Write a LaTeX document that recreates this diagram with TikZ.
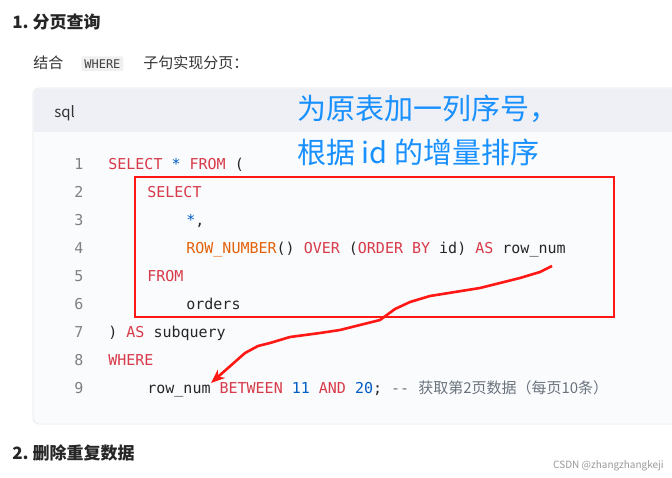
\documentclass[tikz,border=0pt]{standalone}
\usepackage{fontspec}
\setmainfont{Noto Sans CJK SC}
\newfontfamily\cjk{Noto Sans CJK SC}
\setmonofont{DejaVu Sans Mono}
\usetikzlibrary{arrows.meta}
\definecolor{kw}{RGB}{215, 58, 73}
\definecolor{fn}{RGB}{227, 98, 9}
\definecolor{nm}{RGB}{0, 92, 197}
\definecolor{cm}{RGB}{106, 115, 125}
\definecolor{note}{RGB}{24, 144, 255}
\definecolor{redmark}{RGB}{255, 24, 20}
\definecolor{panel}{RGB}{250, 251, 253}
\definecolor{band}{RGB}{238, 240, 246}
\newcommand{\K}[1]{\textcolor{kw}{#1}}
\newcommand{\F}[1]{\textcolor{fn}{#1}}
\newcommand{\N}[1]{\textcolor{nm}{#1}}
\newcommand{\C}[1]{\textcolor{cm}{#1}}
\begin{document}
\begin{tikzpicture}[x=1pt, y=-1pt, line width=0.7pt,
    codeline/.style={anchor=base west, inner sep=0pt, font=\fontsize{15}{15}\ttfamily, text=black!85},
    lineno/.style={anchor=base, inner sep=0pt, font=\fontsize{15}{15}\ttfamily, text=black!50},
    heading/.style={anchor=base west, inner sep=0pt, font=\fontsize{17}{17}\bfseries, text=black!85}]
    \useasboundingbox (0,0) rectangle (672,477);
    \fill[white] (0,0) rectangle (672,477);

    \node[heading] (h1) at (12,28) {1.\ 分页查询};
    \node[anchor=base west, inner sep=0pt, font=\fontsize{15}{15}\selectfont, text=black!80] (intro) at (33,68) {结合};
    \node[anchor=base west, fill=black!6, rounded corners=2pt, inner sep=3pt, font=\fontsize{12}{12}\ttfamily, text=black!75] (where) at (81,68) {WHERE};
    \node[anchor=base west, inner sep=0pt, font=\fontsize{15}{15}\selectfont, text=black!80] (intro2) at (143,68) {子句实现分页：};

    % code panel
    \begin{scope}
        \clip (0,0) rectangle (672,477);
        \draw[draw=black!8, fill=panel, rounded corners=6pt] (33,88) rectangle (690,424);
        \fill[band, rounded corners=6pt] (33.5,88.5) rectangle (689,132);
        \fill[band] (33.5,110) rectangle (689,132);
    \end{scope}
    \node[anchor=base west, inner sep=0pt, font=\fontsize{15}{15}\selectfont, text=black!80] (lang) at (54,117) {sql};

    \foreach \i in {1,...,9}
        \node[lineno] (n\i) at (79,{164+28*(\i-1)+5}) {\i};

    \node[codeline] (c1) at (108,169) {\K{SELECT} \N{*} \K{FROM} (};
    \node[codeline] (c2) at (147,197) {\K{SELECT}};
    \node[codeline] (c3) at (186,225) {\N{*},};
    \node[codeline] (c4) at (186,253) {\F{ROW\_NUMBER}() \K{OVER} (\K{ORDER BY} id) \K{AS} row\_num};
    \node[codeline] (c5) at (147,281) {\K{FROM}};
    \node[codeline] (c6) at (186,309) {orders};
    \node[codeline] (c7) at (108,337) {) \K{AS} subquery};
    \node[codeline] (c8) at (108,365) {\K{WHERE}};
    \node[codeline] (c9) at (147,393) {row\_num \K{BETWEEN} \N{11} \K{AND} \N{20}; \C{-- {\cjk 获取第2页数据（每页10条）}}};

    % annotation
    \draw[redmark, line width=1.8pt] (135,177) rectangle (614,317);
    \node[anchor=base west, inner sep=0pt, font=\fontsize{29}{29}\selectfont, text=note] (t1) at (297,119) {为原表加一列序号，};
    \node[anchor=base west, inner sep=0pt, font=\fontsize{29}{29}\selectfont, text=note] (t2) at (297,163) {根据 id 的增量排序};
    \coordinate (from) at (552,266);
    \coordinate (to) at (211,383);
    \draw[redmark, line width=2.6pt, -{Stealth[length=14pt, width=11pt]}]
        (from) -- (540,272) -- (520,278) -- (500,283) -- (480,288) -- (455,292) -- (430,296)
        -- (410,302) -- (395,309) -- (380,320) -- (360,325) -- (340,330) -- (320,333)
        -- (290,337) -- (270,343) -- (258,346) -- (245,353) -- (to);

    \node[heading] (h2) at (12,459) {2.\ 删除重复数据};
    \node[anchor=base east, inner sep=0pt, font=\fontsize{10}{10}\selectfont, text=black!40] (wm) at (664,468) {CSDN @zhangzhangkeji};
\end{tikzpicture}
\end{document}
